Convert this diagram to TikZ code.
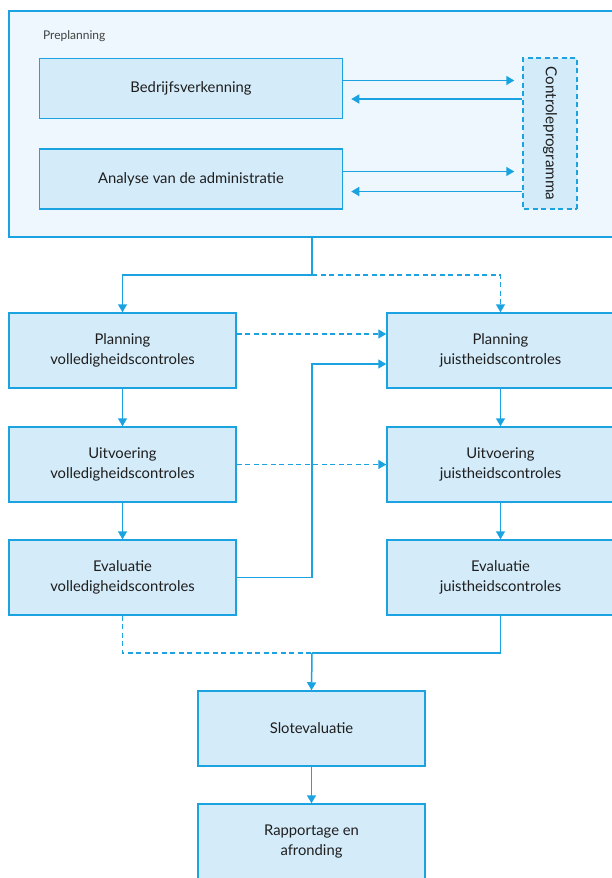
\documentclass[tikz,border=0pt]{standalone}
\usepackage{fontspec}
\setmainfont{Lato}
\usepackage{tikz}
\usetikzlibrary{arrows.meta,positioning}
\definecolor{lijn}{HTML}{1AA3E0}
\definecolor{vak}{HTML}{D4EBF9}
\definecolor{kader}{HTML}{EEF7FD}
\definecolor{tekst}{HTML}{1E1E1E}
\tikzset{
    stap/.style={draw=lijn, fill=vak, line width=1.5pt, text=tekst, align=center,
        font=\fontsize{14.8}{19.5}\selectfont, minimum width=227pt, minimum height=75pt, inner sep=0pt},
    pijl/.style={draw=lijn, line width=1.5pt, -{Triangle[length=8pt,width=9pt]}},
    lijnstuk/.style={draw=lijn, line width=1.5pt},
    stippel/.style={dash pattern=on 5pt off 3.5pt}
}

\begin{document}
\begin{tikzpicture}[x=1pt,y=-1pt]
    \useasboundingbox (0,0) rectangle (612,878);
    \node[draw=lijn, fill=kader, line width=1.5pt, minimum width=606pt, minimum height=226pt] (pre) at (312,124) {};
    \node[anchor=base west, text=tekst!85, font=\fontsize{12}{14}\selectfont] (prelabel) at (39.5,39.5) {Preplanning};
    \node[stap, minimum width=303pt, minimum height=60pt] (bv) at (191,88.5) {Bedrijfsverkenning};
    \node[stap, minimum width=303pt, minimum height=60pt] (an) at (191,179) {Analyse van de administratie};
    \node[stap, stippel, rotate=-90, minimum width=151pt, minimum height=54pt,
        font=\fontsize{15.2}{17}\selectfont] (cp) at (550,133.5) {Controleprogramma};
    \draw[pijl, shorten >=8pt] ([yshift=8pt]bv.east) -- ([yshift=8pt]bv.east -| cp.south);
    \draw[pijl, shorten >=8pt] ([yshift=-10.5pt]bv.east -| cp.south) -- ([yshift=-10.5pt]bv.east);
    \draw[pijl, shorten >=8pt] ([yshift=7.5pt]an.east) -- ([yshift=7.5pt]an.east -| cp.south);
    \draw[pijl, shorten >=8pt] ([yshift=-12.5pt]an.east -| cp.south) -- ([yshift=-12.5pt]an.east);

    \node[stap] (pv) at (122.5,350.5) {Planning\\volledigheidscontroles};
    \node[stap] (uv) at (122.5,464.5) {Uitvoering\\volledigheidscontroles};
    \node[stap] (ev) at (122.5,577.5) {Evaluatie\\volledigheidscontroles};
    \node[stap] (pj) at (500.5,350.5) {Planning\\juistheidscontroles};
    \node[stap] (uj) at (500.5,464.5) {Uitvoering\\juistheidscontroles};
    \node[stap] (ej) at (500.5,577.5) {Evaluatie\\juistheidscontroles};
    \node[stap] (slot) at (311.5,728.5) {Slotevaluatie};
    \node[stap] (rap) at (311.5,841.5) {Rapportage en\\afronding};

    \coordinate (split) at (312,275);
    \coordinate (knik) at (312,364);
    \coordinate (samen) at (312,653);
    \draw[pijl] (pre.south) -- (split) -| (pv.north);
    \draw[pijl, stippel] (split) -| (pj.north);
    \draw[pijl] (pv) -- (uv);
    \draw[pijl] (uv) -- (ev);
    \draw[pijl] (pj) -- (uj);
    \draw[pijl] (uj) -- (ej);
    \draw[pijl, stippel] ([yshift=16.5pt]pv.east) -- ([yshift=16.5pt]pv.east -| pj.west);
    \draw[pijl, stippel] (uv.east) -- (uj.west);
    \draw[pijl] (ev.east) -| (knik) -- (knik -| pj.west);
    \draw[lijnstuk, stippel] (ev.south) |- (samen);
    \draw[lijnstuk] (ej.south) |- (samen);
    \draw[pijl] (samen) -- (slot.north);
    \draw[pijl] (slot) -- (rap);
\end{tikzpicture}
\end{document}
